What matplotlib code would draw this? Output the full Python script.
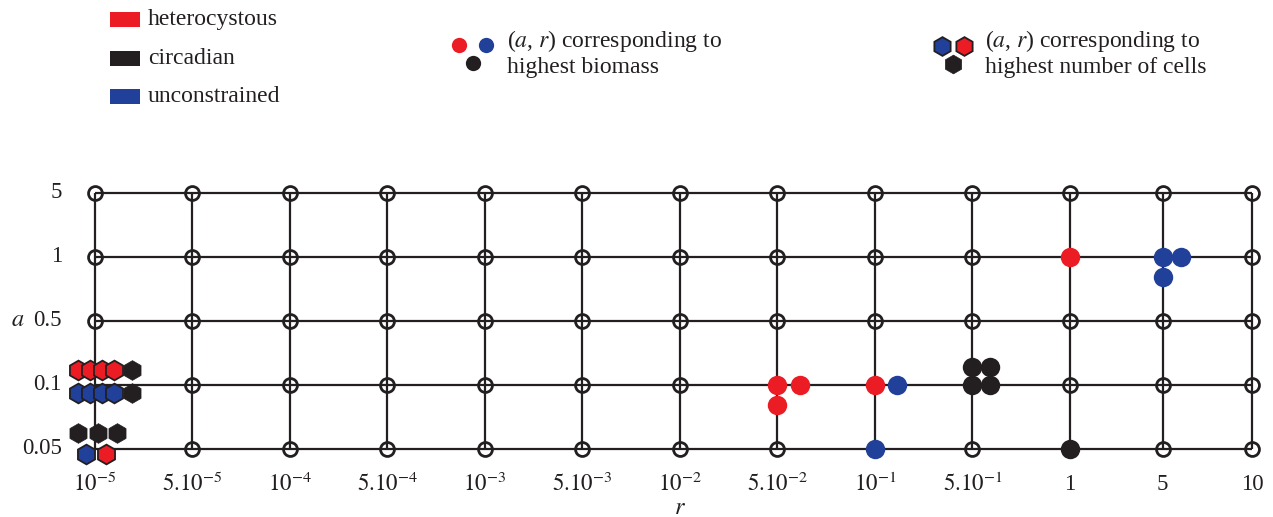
import numpy as np
import matplotlib
matplotlib.use('Agg')
import matplotlib.pyplot as plt
from matplotlib.patches import Rectangle
from matplotlib.lines import Line2D

plt.rcParams['font.family'] = ['Liberation Serif', 'DejaVu Serif']
plt.rcParams['mathtext.fontset'] = 'stix'

# ---------------- data ----------------
r_values = ['1e-5', '5e-5', '1e-4', '5e-4', '1e-3', '5e-3', '1e-2',
            '5e-2', '1e-1', '5e-1', '1', '5', '10']
r_labels = [r'$10^{-5}$', r'$5.10^{-5}$', r'$10^{-4}$', r'$5.10^{-4}$',
            r'$10^{-3}$', r'$5.10^{-3}$', r'$10^{-2}$', r'$5.10^{-2}$',
            r'$10^{-1}$', r'$5.10^{-1}$', '1', '5', '10']
a_values = ['0.05', '0.1', '0.5', '1', '5']
a_labels = ['0.05', '0.1', '0.5', '1', '5']

groups = ['heterocystous', 'circadian', 'unconstrained']

# (a, r) giving highest biomass (one entry per run)
biomass_group = ['heterocystous'] * 5 + ['circadian'] * 5 + ['unconstrained'] * 5
biomass_r = ['5e-2', '5e-2', '5e-2', '1e-1', '1',
             '5e-1', '5e-1', '5e-1', '5e-1', '1',
             '1e-1', '1e-1', '5', '5', '5']
biomass_a = ['0.1', '0.1', '0.1', '0.1', '1',
             '0.1', '0.1', '0.1', '0.1', '0.05',
             '0.1', '0.05', '1', '1', '1']

# (a, r) giving highest number of cells (one entry per run)
cells_group = ['heterocystous'] * 5 + ['circadian'] * 5 + ['unconstrained'] * 5
cells_r = ['1e-5'] * 15
cells_a = ['0.1', '0.1', '0.1', '0.1', '0.05',
           '0.1', '0.1', '0.05', '0.05', '0.05',
           '0.1', '0.1', '0.1', '0.1', '0.05']

# ---------------- layout / style ----------------
colors = {'heterocystous': '#ec1c24', 'circadian': '#231f20',
          'unconstrained': '#21409a'}
edge_hex = {'heterocystous': '#231f20', 'circadian': '#231f20',
            'unconstrained': '#231f20'}
# cluster offsets (pixels) so that coincident runs are visible side by side
biomass_dx = [0, 23, 0, 0, 0, 0, 18, 0, 18, 0, 22, 0, 0, 18, 0]
biomass_dy = [0, 0, -20, 0, 0, 0, 0, 18, 18, 0, 0, 0, 0, 0, -20]
cells_dx = [-17, -5, 7, 19, 11, 37, 37, -17, 3, 22, -17, -5, 7, 19, -9]
cells_dy = [15, 15, 15, 15, -5, 15, -8, 16, 16, 16, -8, -8, -8, -8, -5]

W, H, DPI = 1273, 517, 100
col_pos = np.arange(len(r_values), dtype=float)
col_pos[-2] = 10.95
col_pos[-1] = 11.87
row_pos = np.arange(len(a_values), dtype=float)
PX_X = 97.5   # pixels per column unit
PX_Y = 64.0   # pixels per row unit

x0, x1 = 95, 95 + col_pos[-1] * PX_X
y0, y1 = 449, 193

fig = plt.figure(figsize=(W / DPI, H / DPI), dpi=DPI)
ax = fig.add_axes([x0 / W, 1 - y0 / H, (x1 - x0) / W, (y0 - y1) / H])
ax.set_xlim(col_pos[0], col_pos[-1])
ax.set_ylim(row_pos[0], row_pos[-1])
ax.axis('off')

line_c = '#231f20'
for x in col_pos:
    ax.plot([x, x], [row_pos[0], row_pos[-1]], color=line_c, lw=1.6,
            clip_on=False, zorder=1, solid_capstyle='butt')
for y in row_pos:
    ax.plot([col_pos[0], col_pos[-1]], [y, y], color=line_c, lw=1.6,
            clip_on=False, zorder=1, solid_capstyle='butt')

rx = {v: col_pos[i] for i, v in enumerate(r_values)}
ay = {v: row_pos[i] for i, v in enumerate(a_values)}

occupied = set(zip(biomass_r, biomass_a)) | set(zip(cells_r, cells_a))
for i, rv in enumerate(r_values):
    for j, av in enumerate(a_values):
        if (rv, av) in occupied:
            continue
        ax.plot(col_pos[i], row_pos[j], 'o', ms=10, mfc='none', mec=line_c,
                mew=2.0, clip_on=False, zorder=2)

# biomass optima: filled circles
for g, rv, av, dx, dy in zip(biomass_group, biomass_r, biomass_a,
                             biomass_dx, biomass_dy):
    ax.plot(rx[rv] + dx / PX_X, ay[av] + dy / PX_Y, 'o', ms=14,
            mfc=colors[g], mec='none', clip_on=False, zorder=3)

# cell-number optima: hexagons
for g, rv, av, dx, dy in zip(cells_group, cells_r, cells_a, cells_dx, cells_dy):
    ew = 1.3 if g != 'circadian' else 0.5
    ax.plot(rx[rv] + dx / PX_X, ay[av] + dy / PX_Y, 'h', ms=14.2,
            mfc=colors[g], mec=edge_hex[g], mew=ew, clip_on=False, zorder=4)

fs = 16.5
for i, lab in enumerate(r_labels):
    ax.text(col_pos[i], -0.55, lab, ha='center', va='center', fontsize=fs,
            color='#231f20')
for j, lab in enumerate(a_labels):
    ax.text(-33 / PX_X, row_pos[j], lab, ha='right', va='center', fontsize=fs,
            color='#231f20')
ax.text(-84 / PX_X, row_pos[2], r'$a$', ha='left', va='center', fontsize=fs + 1,
        color='#231f20')
ax.text(col_pos[6], -0.93, r'$r$', ha='center', va='center', fontsize=fs + 1,
        color='#231f20')


def fx(px):
    return px / W


def fy(py):
    return 1 - py / H


# group legend (top left)
for k, g in enumerate(groups):
    yc = 19.5 + k * 38.5
    fig.patches.append(Rectangle((fx(110), fy(yc + 7.5)), 30 / W, 15 / H,
                                 transform=fig.transFigure,
                                 facecolor=colors[g], edgecolor='none'))
    fig.text(fx(148), fy(yc), g, ha='left', va='center', fontsize=fs + 0.5,
             color='#231f20')

# biomass legend
fig.add_artist(Line2D([fx(459)], [fy(45)], marker='o', ms=11,
                      mfc=colors['heterocystous'], mec='none',
                      transform=fig.transFigure))
fig.add_artist(Line2D([fx(486)], [fy(45)], marker='o', ms=11,
                      mfc=colors['unconstrained'], mec='none',
                      transform=fig.transFigure))
fig.add_artist(Line2D([fx(473)], [fy(63)], marker='o', ms=11,
                      mfc=colors['circadian'], mec='none',
                      transform=fig.transFigure))
fig.text(fx(507), fy(41), r'($a$, $r$) corresponding to', ha='left',
         va='center', fontsize=fs + 0.5, color='#231f20')
fig.text(fx(507), fy(67), 'highest biomass', ha='left', va='center',
         fontsize=fs + 0.5, color='#231f20')

# cells legend
fig.add_artist(Line2D([fx(942)], [fy(46)], marker='h', ms=13.5, mew=1.3,
                      mfc=colors['unconstrained'], mec='#231f20',
                      transform=fig.transFigure))
fig.add_artist(Line2D([fx(964)], [fy(46)], marker='h', ms=13.5, mew=1.3,
                      mfc=colors['heterocystous'], mec='#231f20',
                      transform=fig.transFigure))
fig.add_artist(Line2D([fx(953)], [fy(64)], marker='h', ms=13.5, mew=0.5,
                      mfc=colors['circadian'], mec='#231f20',
                      transform=fig.transFigure))
fig.text(fx(985), fy(41), r'($a$, $r$) corresponding to', ha='left',
         va='center', fontsize=fs + 0.5, color='#231f20')
fig.text(fx(985), fy(68), 'highest number of cells', ha='left', va='center',
         fontsize=fs + 0.5, color='#231f20')

fig.savefig('out.png', dpi=DPI)
